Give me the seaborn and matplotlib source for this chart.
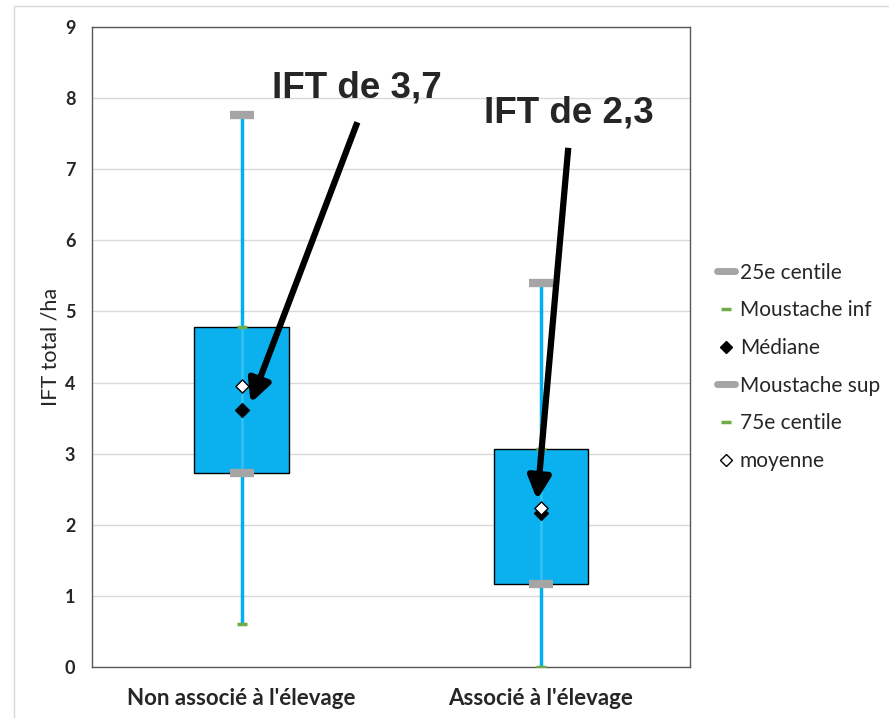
import matplotlib
matplotlib.use("Agg")
import matplotlib.pyplot as plt
from matplotlib.lines import Line2D
import seaborn as sns
import pandas as pd

# values (IFT total /ha)
categories = ["Non associé à l'élevage", "Associé à l'élevage"]
centile_25 = [2.73, 1.17]
centile_75 = [4.78, 3.06]
moustache_inf = [0.60, 0.0]
moustache_sup = [7.76, 5.40]
mediane = [3.62, 2.16]
moyenne = [3.95, 2.24]
annot_labels = ["IFT de 3,7", "IFT de 2,3"]

sns.set_theme(style="white")
plt.rcParams['font.family'] = ['Lato', 'DejaVu Sans']

df = pd.DataFrame({"cat": categories, "q1": centile_25, "q3": centile_75,
                   "lo": moustache_inf, "hi": moustache_sup,
                   "med": mediane, "mean": moyenne})
x = list(range(len(categories)))

fig = plt.figure(figsize=(8.89, 7.18), dpi=100)
ax = fig.add_axes([0.1035, 0.071, 0.673, 0.8915])

BOX = "#0AB1EE"
CYAN = "#00B0F0"
GREY = "#A5A5A5"
GREEN = "#70AD47"

ax.set_axisbelow(True)
ax.yaxis.grid(True, color="#D9D9D9", lw=1)

# whiskers
ax.vlines(x, df["lo"], df["hi"], color=CYAN, lw=2.5, zorder=2)
# boxes (stacked-bar style)
ax.bar(x, df["q3"] - df["q1"], bottom=df["q1"], width=0.315, color=BOX,
       edgecolor="black", lw=1, zorder=3)
ax.vlines(x, df["q1"], df["q3"], color="#2FC0F4", lw=2, zorder=3.5)

# caps
ax.scatter(x, df["hi"], marker="_", s=320, lw=6, color=GREY, zorder=4)
ax.scatter(x, df["q1"], marker="_", s=320, lw=6, color=GREY, zorder=4)
ax.scatter(x, df["lo"], marker="_", s=60, lw=2.5, color=GREEN, zorder=4)
ax.scatter(x, df["q3"], marker="_", s=60, lw=2.5, color=GREEN, zorder=4)

sns.scatterplot(data=df, x=x, y="med", marker="D", s=55, color="black",
                edgecolor="black", ax=ax, zorder=5, legend=False)
sns.scatterplot(data=df, x=x, y="mean", marker="D", s=45, color="white",
                edgecolor="black", linewidth=1, ax=ax, zorder=6, legend=False)

# annotations with arrows
text_pos = [(0.385, 8.14), (1.095, 7.79)]
arrow_start = [(0.387, 7.66), (1.092, 7.30)]
arrow_tip = [(0.03, 3.71), (0.988, 2.35)]
for lab, tp, st, tip in zip(annot_labels, text_pos, arrow_start, arrow_tip):
    ax.text(tp[0], tp[1], lab, ha="center", va="center", fontsize=26.5,
            fontweight="bold", family="Liberation Sans", zorder=7)
    ax.annotate("", xy=tip, xytext=st,
                arrowprops=dict(arrowstyle="-|>", color="black", lw=4.5,
                                mutation_scale=34, shrinkA=0, shrinkB=0,
                                capstyle="butt"),
                zorder=7)

ax.set_xlim(-0.5, 1.5)
ax.set_ylim(0, 9)
ax.set_yticks(range(10))
ax.set_xticks(x)
ax.set_xticklabels(categories, fontsize=16, fontweight="bold")
ax.tick_params(axis="x", length=0, pad=15)
ax.tick_params(axis="y", length=0, pad=12, labelsize=13)
for t in ax.get_yticklabels():
    t.set_fontweight("bold")
ax.set_xlabel("")
ax.set_ylabel("IFT total /ha", fontsize=15.5, labelpad=3)
for s in ax.spines.values():
    s.set_color("#595959")
    s.set_linewidth(1)

handles = [
    Line2D([], [], color=GREY, lw=5, solid_capstyle="round"),
    Line2D([], [], marker="_", color=GREEN, lw=0, markersize=7, markeredgewidth=2.5),
    Line2D([], [], marker="D", color="black", lw=0, markersize=6),
    Line2D([], [], color=GREY, lw=5, solid_capstyle="round"),
    Line2D([], [], marker="_", color=GREEN, lw=0, markersize=7, markeredgewidth=2.5),
    Line2D([], [], marker="D", markerfacecolor="white", markeredgecolor="black",
           lw=0, markersize=6),
]
labels = ["25e centile", "Moustache inf", "Médiane", "Moustache sup",
          "75e centile", "moyenne"]
fig.legend(handles, labels, loc="upper left", bbox_to_anchor=(0.797, 0.646),
           frameon=False, fontsize=15, handlelength=0.85, handletextpad=0.25,
           labelspacing=0.85, borderaxespad=0)

# light outer chart border
fig.add_artist(plt.Rectangle((0.0157, -0.01), 1.0, 1.0 - 0.0084 + 0.01,
                             transform=fig.transFigure, fill=False,
                             edgecolor="#D9D9D9", lw=1))

fig.savefig("out.png", dpi=100)
